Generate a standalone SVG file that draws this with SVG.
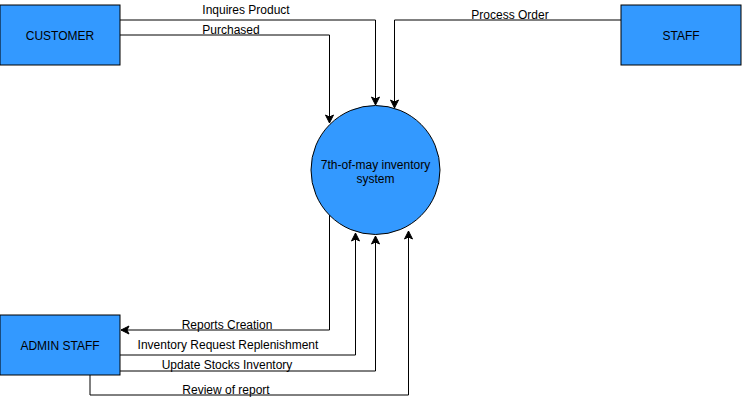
<svg xmlns="http://www.w3.org/2000/svg" width="742" height="404" viewBox="0 0 742 404">
<style>
.node{fill:#3399FF;stroke:#000;stroke-width:1}
.nt{font-family:"Liberation Sans",Arial,sans-serif;font-size:12px;fill:#000;text-anchor:middle;dominant-baseline:central}
.lbl{font-family:"Liberation Sans",Arial,sans-serif;font-size:12px;fill:#000;text-anchor:middle;dominant-baseline:central}
.edge{fill:none;stroke:#000;stroke-width:1;marker-end:url(#arr)}
</style>
<defs>
<marker id="arr" markerUnits="userSpaceOnUse" markerWidth="10" markerHeight="10" viewBox="0 0 10 10" refX="9" refY="5" orient="auto">
<path d="M1,1 L9,5 L1,9 L3,5 z" fill="#000" stroke="#000" stroke-width="1"/>
</marker>
</defs>
<rect width="742" height="404" fill="#fff"/>
<g id="connectors">
<path class="edge" d="M120,20 H375.5 V105"/>
<path class="edge" d="M120,35 H329.5 V123"/>
<path class="edge" d="M621,20 H394.5 V108"/>
<path class="edge" d="M329.5,215 V330 H121"/>
<path class="edge" d="M120,355 H355.5 V233"/>
<path class="edge" d="M120,371 H375.5 V236"/>
<path class="edge" d="M90,375 V395 H408.5 V231"/>
<text class="lbl" x="246" y="10">Inquires Product</text>
<text class="lbl" x="231" y="30">Purchased</text>
<text class="lbl" x="510" y="15">Process Order</text>
<text class="lbl" x="227" y="325">Reports Creation</text>
<text class="lbl" x="228" y="345">Inventory Request Replenishment</text>
<text class="lbl" x="227" y="365">Update Stocks Inventory</text>
<text class="lbl" x="226" y="390">Review of report</text>
</g>
<g id="customer">
<rect class="node" x="0" y="5" width="120" height="60"/>
<text class="nt" x="60" y="36">CUSTOMER</text>
</g>
<g id="staff">
<rect class="node" x="621" y="5" width="120" height="60"/>
<text class="nt" x="681" y="36">STAFF</text>
</g>
<g id="admin-staff">
<rect class="node" x="0" y="315" width="120" height="60"/>
<text class="nt" x="60" y="346">ADMIN STAFF</text>
</g>
<g id="system">
<circle class="node" cx="375.5" cy="170" r="64.5"/>
<text class="nt" x="375.5" y="165">7th-of-may inventory</text>
<text class="nt" x="375.5" y="179">system</text>
</g>
</svg>
